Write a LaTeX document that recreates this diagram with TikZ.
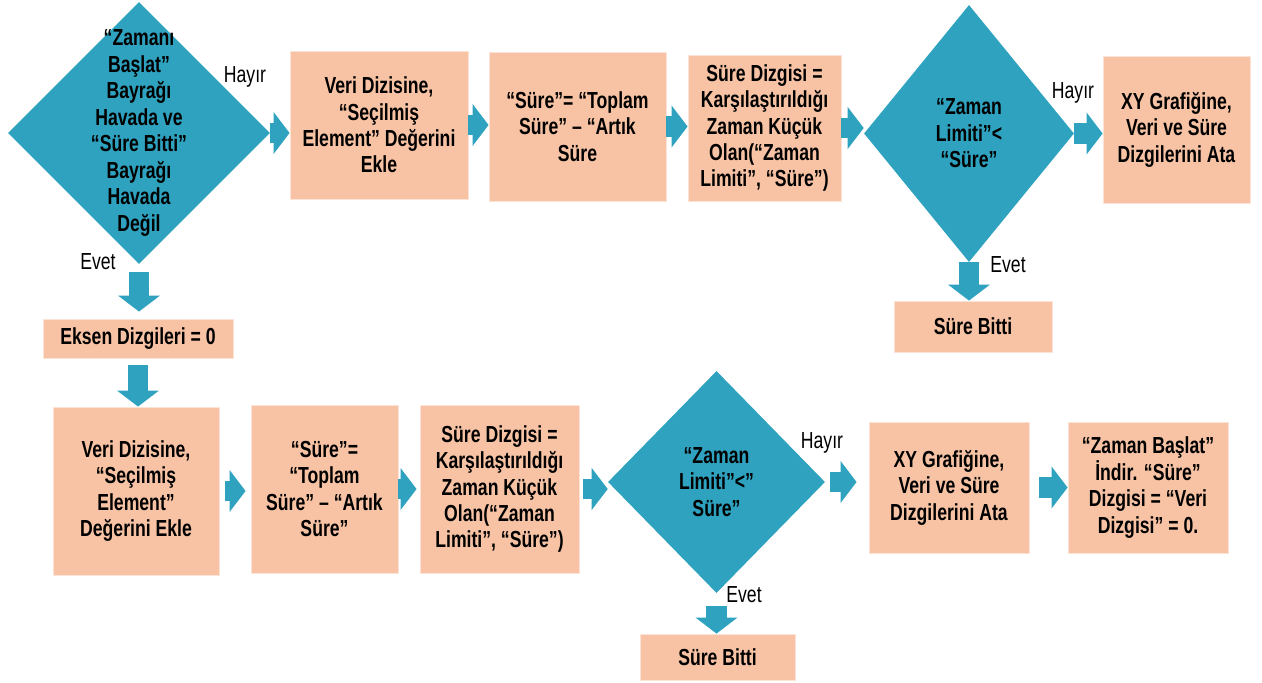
\documentclass[tikz,border=0pt]{standalone}
\usepackage{fontspec}
\setmainfont{Liberation Sans}[FakeStretch=0.76]
\usetikzlibrary{shapes.geometric,arrows.meta}
\definecolor{flowblue}{RGB}{46,162,191}
\definecolor{boxpeach}{RGB}{247,195,164}

\begin{document}
\begin{tikzpicture}[x=0.025cm, y=-0.025cm,
  box/.style={fill=boxpeach, draw=white!55!boxpeach, line width=0.6pt, align=center, inner sep=2pt, font=\bfseries\fontsize{16.5}{18.8}\selectfont},
  decision/.style={diamond, fill=flowblue, inner sep=0pt},
  dtext/.style={align=center, font=\bfseries\fontsize{16.5}{18.8}\selectfont},
  answer/.style={inner sep=1pt, font=\fontsize{16.5}{18.8}\selectfont},
  flow/.style={draw=flowblue, line width=0.52cm, -{Triangle[length=0.4cm, width=1.05cm, line width=0pt]}}
]

% Fix the picture size
\useasboundingbox (0,0) rectangle (1262,683);

% Top row
\node[decision, minimum width=6.55cm, minimum height=6.55cm,
  label={[dtext, name=d1t]center:{“Zamanı\\Başlat”\\Bayrağı\\Havada ve\\“Süre Bitti”\\Bayrağı\\Havada\\Değil}}] (d1) at (139,133) {};
\node[box, minimum width=4.45cm, minimum height=3.7cm] (a1) at (379,125) {Veri Dizisine,\\“Seçilmiş\\Element” Değerini\\Ekle};
\node[box, minimum width=4.425cm, minimum height=3.725cm] (a2) at (577.5,126.5) {“Süre”= “Toplam\\Süre” – “Artık\\Süre};
\node[box, minimum width=3.825cm, minimum height=3.65cm] (a3) at (764.5,128) {Süre Dizgisi =\\Karşılaştırıldığı\\Zaman Küçük\\Olan(“Zaman\\Limiti”, “Süre”)};
\node[decision, minimum width=5.25cm, minimum height=6.425cm,
  label={[dtext, name=d2t]center:{“Zaman\\Limiti”<\\“Süre”}}] (d2) at (969,133.5) {};
\node[box, minimum width=3.675cm, minimum height=3.675cm] (a4) at (1176.5,129.5) {XY Grafiğine,\\Veri ve Süre\\Dizgilerini Ata};
\node[box, minimum width=3.95cm, minimum height=1.275cm] (a5) at (973,326.5) {Süre Bitti};
\node[box, minimum width=4.75cm, minimum height=0.975cm] (e1) at (138,338.5) {Eksen Dizgileri = 0};

% Bottom row
\node[box, minimum width=4.15cm, minimum height=4.2cm] (b1) at (136,491) {Veri Dizisine,\\“Seçilmiş\\Element”\\Değerini Ekle};
\node[box, minimum width=3.675cm, minimum height=4.2cm] (b2) at (324.5,489) {“Süre”=\\“Toplam\\Süre” – “Artık\\Süre”};
\node[box, minimum width=3.975cm, minimum height=4.2cm] (b3) at (499.5,489) {Süre Dizgisi =\\Karşılaştırıldığı\\Zaman Küçük\\Olan(“Zaman\\Limiti”, “Süre”)};
\node[decision, minimum width=5.425cm, minimum height=5.55cm,
  label={[dtext, name=d3t]center:{“Zaman\\Limiti”<”\\Süre”}}] (d3) at (716.5,482) {};
\node[box, minimum width=4cm, minimum height=3.275cm] (b4) at (949,487.5) {XY Grafiğine,\\Veri ve Süre\\Dizgilerini Ata};
\node[box, minimum width=4cm, minimum height=3.275cm] (b5) at (1148,487.5) {“Zaman Başlat”\\İndir. “Süre”\\Dizgisi = “Veri\\Dizgisi” = 0.};
\node[box, minimum width=3.875cm, minimum height=1.15cm] (b6) at (717.5,657) {Süre Bitti};

% Yes / no labels
\node[answer] (h1) at (245,77) {Hayır};
\node[answer] (v1) at (98,262) {Evet};
\node[answer] (h2) at (1073,93) {Hayır};
\node[answer] (v2) at (1008,265) {Evet};
\node[answer] (h3) at (822,443) {Hayır};
\node[answer] (v3) at (744,595) {Evet};

% Arrows of the top row
\draw[flow] (d1.east) -- (d1.east -| a1.west);
\draw[flow] (a1.east) -- (a1.east -| a2.west);
\draw[flow] (a2.east) -- (a2.east -| a3.west);
\draw[flow] (a3.east) -- (a3.east -| d2.west);
\draw[flow] (d2.east) -- (d2.east -| a4.west);
\draw[flow] (d2.south) -- (d2.south |- a5.north);
\draw[flow, shorten <=0.2cm, shorten >=0.175cm] (d1.south) -- (d1.south |- e1.north);
\draw[flow, shorten <=0.175cm] (e1.south) -- (e1.south |- b1.north);

% Arrows of the bottom row
\draw[flow, shorten <=0.15cm, shorten >=0.125cm] (b1.east) -- (b1.east -| b2.west);
\draw[flow, shorten >=0.075cm] (b2.east) -- (b3.west);
\draw[flow, shorten <=0.1cm] (b3.east) -- (b3.east -| d3.west);
\draw[flow, shorten <=0.125cm, shorten >=0.3cm] (d3.east) -- (d3.east -| b4.west);
\draw[flow, shorten <=0.25cm] (b4.east) -- (b5.west);
\draw[flow, shorten <=0.325cm] (d3.south) -- (d3.south |- b6.north);

\end{tikzpicture}
\end{document}
